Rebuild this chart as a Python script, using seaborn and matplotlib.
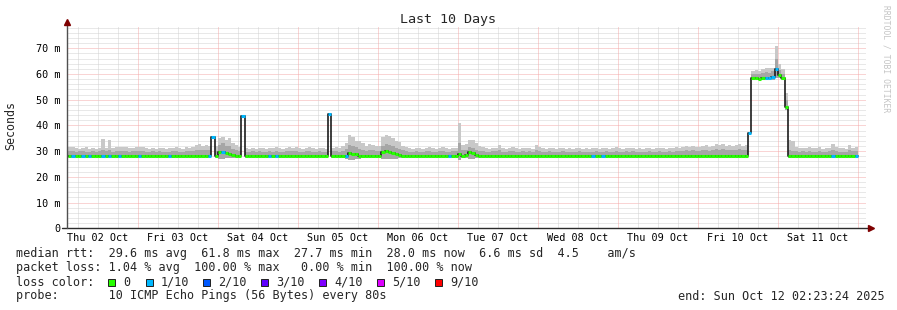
import numpy as np
import matplotlib
matplotlib.use("Agg")
import matplotlib.pyplot as plt
from matplotlib.patches import Rectangle
import seaborn as sns

# ---------------- data (hourly steps, hours since Thu 02 Oct 00:00) ----------------
step_hours = list(range(3, 240))

median_ms = [
    # Thu 02 (03h-23h)
    28, 28, 28, 28, 28, 28, 28, 28, 28, 28, 28, 28, 28, 28, 28, 28, 28, 28, 28, 28, 28,
    # Fri 03
    28, 28, 28, 28, 28, 28, 28, 28, 28, 28, 28, 28, 28, 28, 28, 28, 28, 28, 28, 28, 28, 28, 35.5, 28,
    # Sat 04
    29.5, 29.8, 29.3, 29.0, 28.5, 28.2, 28, 43.5, 28, 28, 28, 28, 28, 28, 28, 28, 28, 28, 28, 28, 28, 28, 28, 28,
    # Sun 05
    28, 28, 28, 28, 28, 28, 28, 28, 28, 44.5, 28, 28, 28, 28, 28.3, 29.2, 29.0, 28.8, 28.3, 28, 28, 28, 28, 28,
    # Mon 06
    28.3, 29.8, 30.0, 29.7, 29.3, 28.8, 28.6, 28.3, 28, 28, 28, 28, 28, 28, 28, 28, 28, 28, 28, 28, 28, 28, 28, 28,
    # Tue 07
    29.0, 28.3, 28.5, 29.5, 29.3, 28.5, 28, 28, 28, 28, 28, 28, 28, 28, 28, 28, 28, 28, 28, 28, 28, 28, 28, 28,
    # Wed 08
    28, 28, 28, 28, 28, 28, 28, 28, 28, 28, 28, 28, 28, 28, 28, 28, 28, 28, 28, 28, 28, 28, 28, 28,
    # Thu 09
    28, 28, 28, 28, 28, 28, 28, 28, 28, 28, 28, 28, 28, 28, 28, 28, 28, 28, 28, 28, 28, 28, 28, 28,
    # Fri 10
    28, 28, 28, 28, 28, 28, 28, 28, 28, 28, 28, 28, 28, 28, 28, 37.2, 58.3, 58.3, 58.2, 58.3, 58.4, 58.3, 58.8, 62.0,
    # Sat 11
    59.5, 58.6, 47.0, 28, 28, 28, 28, 28, 28, 28, 28, 28, 28, 28, 28, 28, 28, 28, 28, 28, 28, 28, 28, 28,
]

hi_ms = [
    31.8, 31.5, 31.2, 31.0, 31.3, 31.5, 30.9, 31.2, 31.0, 31.4, 34.6, 31.2, 34.2, 31.3, 31.5, 31.6, 31.8, 31.8, 31.2, 31.4, 31.7,
    31.8, 31.5, 31.2, 31.0, 31.3, 31.0, 31.4, 31.2, 30.9, 31.1, 31.3, 31.5, 31.2, 31.0, 31.6, 31.4, 31.8, 32.4, 32.6, 32.0, 32.5, 32.2, 35.8, 32.0,
    35.0, 35.5, 34.5, 35.0, 33.0, 32.5, 31.5, 43.8, 31.2, 31.0, 31.3, 31.0, 31.4, 31.2, 31.0, 31.3, 31.1, 31.5, 31.2, 31.0, 31.4, 31.6, 31.3, 31.8,
    31.2, 31.0, 31.3, 31.5, 31.2, 31.0, 31.4, 31.2, 31.0, 44.8, 31.3, 31.5, 31.2, 32.0, 33.0, 36.2, 35.5, 34.0, 33.8, 33.2, 32.2, 32.8, 32.4, 32.0,
    32.0, 35.5, 36.2, 36.0, 35.0, 34.0, 33.5, 32.2, 31.5, 31.2, 31.0, 31.3, 31.2, 31.0, 31.4, 31.6, 31.2, 31.0, 31.3, 31.5, 31.2, 31.0, 31.4, 31.3,
    40.8, 32.5, 32.8, 34.5, 34.2, 33.0, 32.0, 31.5, 31.2, 31.0, 31.3, 31.4, 32.5, 31.2, 31.0, 31.3, 31.5, 31.2, 31.0, 31.4, 31.2, 31.3, 31.0, 32.5,
    31.5, 31.2, 31.0, 31.3, 31.1, 30.9, 31.2, 31.4, 31.0, 31.2, 30.8, 31.1, 31.3, 31.0, 31.2, 30.9, 31.1, 31.3, 31.0, 31.2, 31.4, 31.0, 31.2, 31.5,
    31.2, 31.0, 31.3, 31.1, 31.4, 31.0, 31.2, 30.9, 31.1, 31.3, 31.0, 31.2, 31.4, 31.1, 31.0, 31.3, 31.2, 31.5, 31.3, 31.8, 32.0, 31.6, 32.2, 31.8,
    31.8, 32.2, 32.5, 31.8, 32.0, 32.6, 32.3, 32.8, 32.2, 32.5, 32.0, 32.4, 32.7, 32.1, 32.4, 37.6, 61.2, 61.5, 61.3, 62.0, 62.2, 62.3, 62.5, 71.0,
    64.0, 62.0, 52.5, 34.2, 33.8, 31.6, 31.2, 31.4, 31.1, 31.5, 31.2, 31.3, 31.6, 31.0, 31.2, 31.4, 32.7, 31.5, 31.2, 31.3, 31.0, 32.5, 31.4, 31.6,
]

q3_ms = [
    30.2, 30.0, 29.8, 29.9, 30.0, 29.8, 29.7, 29.9, 29.8, 30.0, 30.6, 29.9, 30.4, 29.8, 30.0, 29.9, 30.1, 30.2, 29.8, 29.9, 30.1,
    30.1, 29.9, 29.8, 29.7, 29.9, 29.7, 30.0, 29.8, 29.6, 29.8, 29.9, 30.0, 29.8, 29.7, 30.0, 29.9, 30.2, 30.5, 30.6, 30.3, 30.5, 30.4, 35.6, 30.2,
    32.5, 33.0, 32.0, 32.0, 30.8, 30.3, 29.9, 43.6, 29.8, 29.7, 29.9, 29.7, 30.0, 29.8, 29.7, 29.9, 29.8, 30.0, 29.8, 29.7, 30.0, 30.1, 29.9, 30.2,
    29.8, 29.7, 29.9, 30.0, 29.8, 29.7, 30.0, 29.8, 29.7, 44.6, 29.9, 30.0, 29.8, 30.2, 30.8, 32.5, 32.0, 31.5, 31.0, 30.6, 30.2, 30.5, 30.3, 30.1,
    30.0, 32.0, 32.8, 32.5, 32.0, 31.2, 30.8, 30.3, 30.0, 29.8, 29.7, 29.9, 29.8, 29.7, 30.0, 30.1, 29.8, 29.7, 29.9, 30.0, 29.8, 29.7, 30.0, 29.9,
    33.0, 30.5, 30.6, 31.5, 31.2, 30.5, 30.1, 30.0, 29.8, 29.7, 29.9, 30.0, 30.5, 29.8, 29.7, 29.9, 30.0, 29.8, 29.7, 30.0, 29.8, 29.9, 29.7, 30.4,
    30.0, 29.8, 29.7, 29.9, 29.8, 29.6, 29.8, 30.0, 29.7, 29.8, 29.6, 29.7, 29.9, 29.7, 29.8, 29.6, 29.7, 29.9, 29.7, 29.8, 30.0, 29.7, 29.8, 30.0,
    29.8, 29.7, 29.9, 29.7, 30.0, 29.7, 29.8, 29.6, 29.7, 29.9, 29.7, 29.8, 30.0, 29.7, 29.7, 29.9, 29.8, 30.0, 29.9, 30.2, 30.3, 30.1, 30.4, 30.2,
    30.2, 30.4, 30.6, 30.2, 30.3, 30.7, 30.5, 30.8, 30.4, 30.6, 30.3, 30.5, 30.7, 30.4, 30.5, 37.4, 60.0, 60.2, 60.0, 60.5, 60.8, 60.5, 61.2, 66.0,
    61.5, 60.2, 50.0, 30.5, 30.2, 29.9, 29.8, 29.9, 29.7, 30.0, 29.8, 29.8, 30.0, 29.7, 29.8, 29.9, 30.5, 30.0, 29.8, 29.8, 29.7, 30.3, 29.9, 30.0,
]

lo_ms = [
    27.4, 27.4, 27.4, 27.4, 27.4, 27.4, 27.4, 27.4, 27.4, 27.4, 27.4, 27.4, 27.4, 27.4, 27.4, 27.4, 27.4, 27.4, 27.4, 27.4, 27.4,
    27.4, 27.4, 27.4, 27.4, 27.4, 27.4, 27.4, 27.4, 27.4, 27.4, 27.4, 27.4, 27.4, 27.4, 27.4, 27.4, 27.4, 27.4, 27.4, 27.4, 27.4, 27.4, 35.0, 27.4,
    27.0, 27.1, 27.2, 27.2, 27.3, 27.4, 27.4, 43.0, 27.4, 27.4, 27.4, 27.4, 27.4, 27.4, 27.4, 27.4, 27.4, 27.4, 27.4, 27.4, 27.4, 27.4, 27.4, 27.4,
    27.4, 27.4, 27.4, 27.4, 27.4, 27.4, 27.4, 27.4, 27.4, 44.0, 27.4, 27.4, 27.4, 27.3, 27.0, 26.5, 26.5, 26.8, 27.0, 27.2, 27.4, 27.4, 27.4, 27.4,
    27.3, 27.0, 27.0, 26.9, 27.0, 27.1, 27.2, 27.3, 27.4, 27.4, 27.4, 27.4, 27.4, 27.4, 27.4, 27.4, 27.4, 27.4, 27.4, 27.4, 27.4, 27.4, 27.4, 27.4,
    26.5, 27.3, 27.2, 27.0, 27.0, 27.2, 27.4, 27.4, 27.4, 27.4, 27.4, 27.4, 27.4, 27.4, 27.4, 27.4, 27.4, 27.4, 27.4, 27.4, 27.4, 27.4, 27.4, 27.4,
    27.4, 27.4, 27.4, 27.4, 27.4, 27.4, 27.4, 27.4, 27.4, 27.4, 27.4, 27.4, 27.4, 27.4, 27.4, 27.4, 27.4, 27.4, 27.4, 27.4, 27.4, 27.4, 27.4, 27.4,
    27.4, 27.4, 27.4, 27.4, 27.4, 27.4, 27.4, 27.4, 27.4, 27.4, 27.4, 27.4, 27.4, 27.4, 27.4, 27.4, 27.4, 27.4, 27.4, 27.4, 27.4, 27.4, 27.4, 27.4,
    27.4, 27.4, 27.4, 27.4, 27.4, 27.4, 27.4, 27.4, 27.4, 27.4, 27.4, 27.4, 27.4, 27.4, 27.4, 36.8, 57.6, 57.7, 57.6, 57.7, 57.8, 57.6, 57.8, 58.5,
    58.5, 57.8, 46.0, 27.4, 27.4, 27.4, 27.4, 27.4, 27.4, 27.4, 27.4, 27.4, 27.4, 27.4, 27.4, 27.4, 27.4, 27.4, 27.4, 27.4, 27.4, 27.4, 27.4, 27.4,
]

loss_tenths = [
    0, 1, 0, 0, 1, 0, 1, 0, 0, 0, 1, 0, 1, 0, 0, 1, 0, 0, 0, 0, 0,
    1, 0, 0, 0, 0, 0, 0, 0, 0, 1, 0, 0, 0, 0, 0, 0, 0, 0, 0, 0, 0, 1, 1, 0,
    0, 1, 0, 0, 0, 0, 0, 1, 0, 0, 0, 0, 0, 0, 0, 1, 0, 1, 0, 0, 0, 0, 0, 0,
    0, 0, 0, 0, 0, 0, 0, 0, 0, 1, 0, 0, 0, 0, 1, 0, 0, 0, 0, 0, 0, 0, 0, 0,
    0, 0, 0, 0, 0, 0, 0, 0, 0, 0, 0, 0, 0, 0, 0, 0, 0, 0, 0, 0, 0, 1, 0, 0,
    0, 0, 0, 0, 0, 0, 0, 0, 0, 0, 0, 0, 0, 0, 0, 0, 0, 0, 0, 0, 0, 0, 0, 0,
    0, 0, 0, 0, 0, 0, 0, 0, 0, 0, 0, 0, 0, 0, 0, 0, 1, 0, 0, 1, 0, 0, 0, 0,
    0, 0, 0, 0, 0, 0, 0, 0, 0, 0, 0, 0, 0, 0, 0, 0, 0, 0, 0, 0, 0, 0, 0, 0,
    0, 0, 0, 0, 0, 0, 0, 0, 0, 0, 0, 0, 0, 0, 0, 1, 0, 0, 0, 0, 1, 1, 1, 1,
    0, 0, 0, 0, 0, 0, 0, 0, 0, 0, 0, 0, 0, 0, 0, 0, 1, 0, 0, 0, 0, 0, 0, 1,
]

day_labels = ["Thu 02 Oct", "Fri 03 Oct", "Sat 04 Oct", "Sun 05 Oct", "Mon 06 Oct",
              "Tue 07 Oct", "Wed 08 Oct", "Thu 09 Oct", "Fri 10 Oct", "Sat 11 Oct"]
y_ticks_ms = [0, 10, 20, 30, 40, 50, 60, 70]
y_tick_labels = ["0", "10 m", "20 m", "30 m", "40 m", "50 m", "60 m", "70 m"]

loss_levels = [0, 1, 2, 3, 4, 5, 9]
loss_labels = ["0", "1/10", "2/10", "3/10", "4/10", "5/10", "9/10"]
loss_palette = ["#26ff00", "#00b8ff", "#0059ff", "#5e00ff", "#7e00ff", "#dd00ff", "#ff0000"]

rtt_avg, rtt_max, rtt_min, rtt_now, rtt_sd, rtt_amps = 29.6, 61.8, 27.7, 28.0, 6.6, 4.5
loss_avg, loss_max, loss_min, loss_now = 1.04, 100.00, 0.00, 100.00

n = len(step_hours)
assert len(median_ms) == n and len(hi_ms) == n and len(q3_ms) == n and len(lo_ms) == n and len(loss_tenths) == n, \
    (len(median_ms), len(hi_ms), len(q3_ms), len(lo_ms), len(loss_tenths))

# ---------------- figure ----------------
sns.set_theme(style="white")
plt.rcParams["font.family"] = ["DejaVu Sans Mono", "DejaVu Sans"]

W, H = 897, 310
fig = plt.figure(figsize=(W / 100, H / 100), dpi=100, facecolor="white")

def fx(px):
    return px / W

def fy(py):
    return 1 - py / H

X0_PX, X1_PX = 67, 866
Y0_PX, Y1_PX = 228.3, 27
DAY0_PX, PX_PER_DAY = 58, 80
PX_PER_MS = 180 / 70

ax = fig.add_axes([fx(X0_PX), fy(Y0_PX), (X1_PX - X0_PX) / W, (Y0_PX - Y1_PX) / H])
ax.set_facecolor("white")
xmin = (X0_PX - DAY0_PX) / PX_PER_DAY
xmax = (X1_PX - DAY0_PX) / PX_PER_DAY
ymax = (Y0_PX - Y1_PX) / PX_PER_MS
ax.set_xlim(xmin, xmax)
ax.set_ylim(0, ymax)

# grid (1px dotted, like rrdtool)
minor_c, major_c = "#d2d2d2", "#f4aaaa"
dash = (0, (1, 1))
for v in np.arange(2, ymax, 2):
    major = int(round(v)) % 10 == 0
    ax.axhline(v, color=major_c if major else minor_c, lw=0.72, ls=dash, zorder=0.5)
for d in np.arange(0.25, xmax, 0.25):
    major = abs(d - round(d)) < 1e-9
    ax.axvline(d, color=major_c if major else minor_c, lw=0.72, ls=dash, zorder=0.5)

# data
t = np.array(step_hours, dtype=float) / 24.0
t_end = t + 1 / 24.0
te = np.append(t, t_end[-1])
med = np.array(median_ms, dtype=float)
hi = np.array(hi_ms, dtype=float)
q3 = np.array(q3_ms, dtype=float)
lo = np.array(lo_ms, dtype=float)
loss = np.array(loss_tenths)

ax.fill_between(te, np.append(lo, lo[-1]), np.append(hi, hi[-1]), step="post",
                color="#c8c8c8", lw=0, zorder=1)
ax.fill_between(te, np.append(lo, lo[-1]), np.append(q3, q3[-1]), step="post",
                color="#a6a6a6", lw=0, zorder=1.2)

sns.lineplot(x=te, y=np.append(med, med[-1]), drawstyle="steps-post", color="#1c1c1c",
             lw=1.2, ax=ax, zorder=3, estimator=None, sort=False, legend=False)

for lvl, col in zip(loss_levels, loss_palette):
    m = loss == lvl
    if m.any():
        ax.hlines(med[m], t[m], t_end[m], colors=col, lw=2.2, zorder=4, capstyle="butt")

# axes lines and arrows
for s in ax.spines.values():
    s.set_visible(False)
axis_c = "#2c2c2c"
ax.plot([(62 - DAY0_PX) / PX_PER_DAY, (869 - DAY0_PX) / PX_PER_DAY], [0, 0],
        color=axis_c, lw=1.0, clip_on=False, zorder=5)
ax.plot([xmin, xmin], [0, (Y0_PX - 23) / PX_PER_MS], color="#505050", lw=1.0,
        clip_on=False, zorder=5)
ax.plot([(871 - DAY0_PX) / PX_PER_DAY], [0], marker=">", ms=4.2, color="#7f0000",
        mec="#7f0000", clip_on=False, zorder=6)
ax.plot([xmin], [(Y0_PX - 22) / PX_PER_MS], marker="^", ms=4.2, color="#7f0000",
        mec="#7f0000", clip_on=False, zorder=6)

# ticks
ax.set_yticks(y_ticks_ms)
ax.set_yticklabels(y_tick_labels)
ax.set_xticks([i + 0.5 for i in range(len(day_labels))])
ax.set_xticklabels(day_labels)
ax.tick_params(axis="y", length=0, pad=5.0, labelsize=7.3, labelcolor="black")
ax.tick_params(axis="x", length=0, pad=3.4, labelsize=7.3, labelcolor="black")
ax.grid(False)

# titles
fig.text(fx(448), fy(19), "Last 10 Days", ha="center", va="center", fontsize=9.6)
fig.text(fx(11), fy(126), "Seconds", rotation=90, ha="center", va="center", fontsize=8.4)
fig.text(fx(886), fy(59), "RRDTOOL / TOBI OETIKER", rotation=270, ha="center", va="center",
         fontsize=5.8, color="#c4c4c4")

# legend text
fs = 8.43
line1 = (f"median rtt:  {rtt_avg:.1f} ms avg  {rtt_max:.1f} ms max  {rtt_min:.1f} ms min  "
         f"{rtt_now:.1f} ms now  {rtt_sd:.1f} ms sd  {rtt_amps:.1f}    am/s")
line2 = (f"packet loss: {loss_avg:.2f} % avg  {loss_max:.2f} % max   {loss_min:.2f} % min  "
         f"{loss_now:.2f} % now")
fig.text(fx(16), fy(254), line1, ha="left", va="center", fontsize=fs)
fig.text(fx(16), fy(268), line2, ha="left", va="center", fontsize=fs)
fig.text(fx(16), fy(282), "loss color:", ha="left", va="center", fontsize=fs)
box_x = [108, 146, 203, 261, 319, 377, 435]
for bx, lab, col in zip(box_x, loss_labels, loss_palette):
    fig.patches.append(Rectangle((fx(bx), fy(285.5)), 7 / W, 7 / H, transform=fig.transFigure,
                                 facecolor=col, edgecolor="#202020", lw=0.7))
    fig.text(fx(bx + 15), fy(282), lab, ha="left", va="center", fontsize=fs)
fig.text(fx(16), fy(296), "probe:       10 ICMP Echo Pings (56 Bytes) every 80s",
         ha="left", va="center", fontsize=fs)
fig.text(fx(678), fy(296), "end: Sun Oct 12 02:23:24 2025", ha="left", va="center", fontsize=fs)

fig.savefig("out.png", dpi=100, facecolor="white")
